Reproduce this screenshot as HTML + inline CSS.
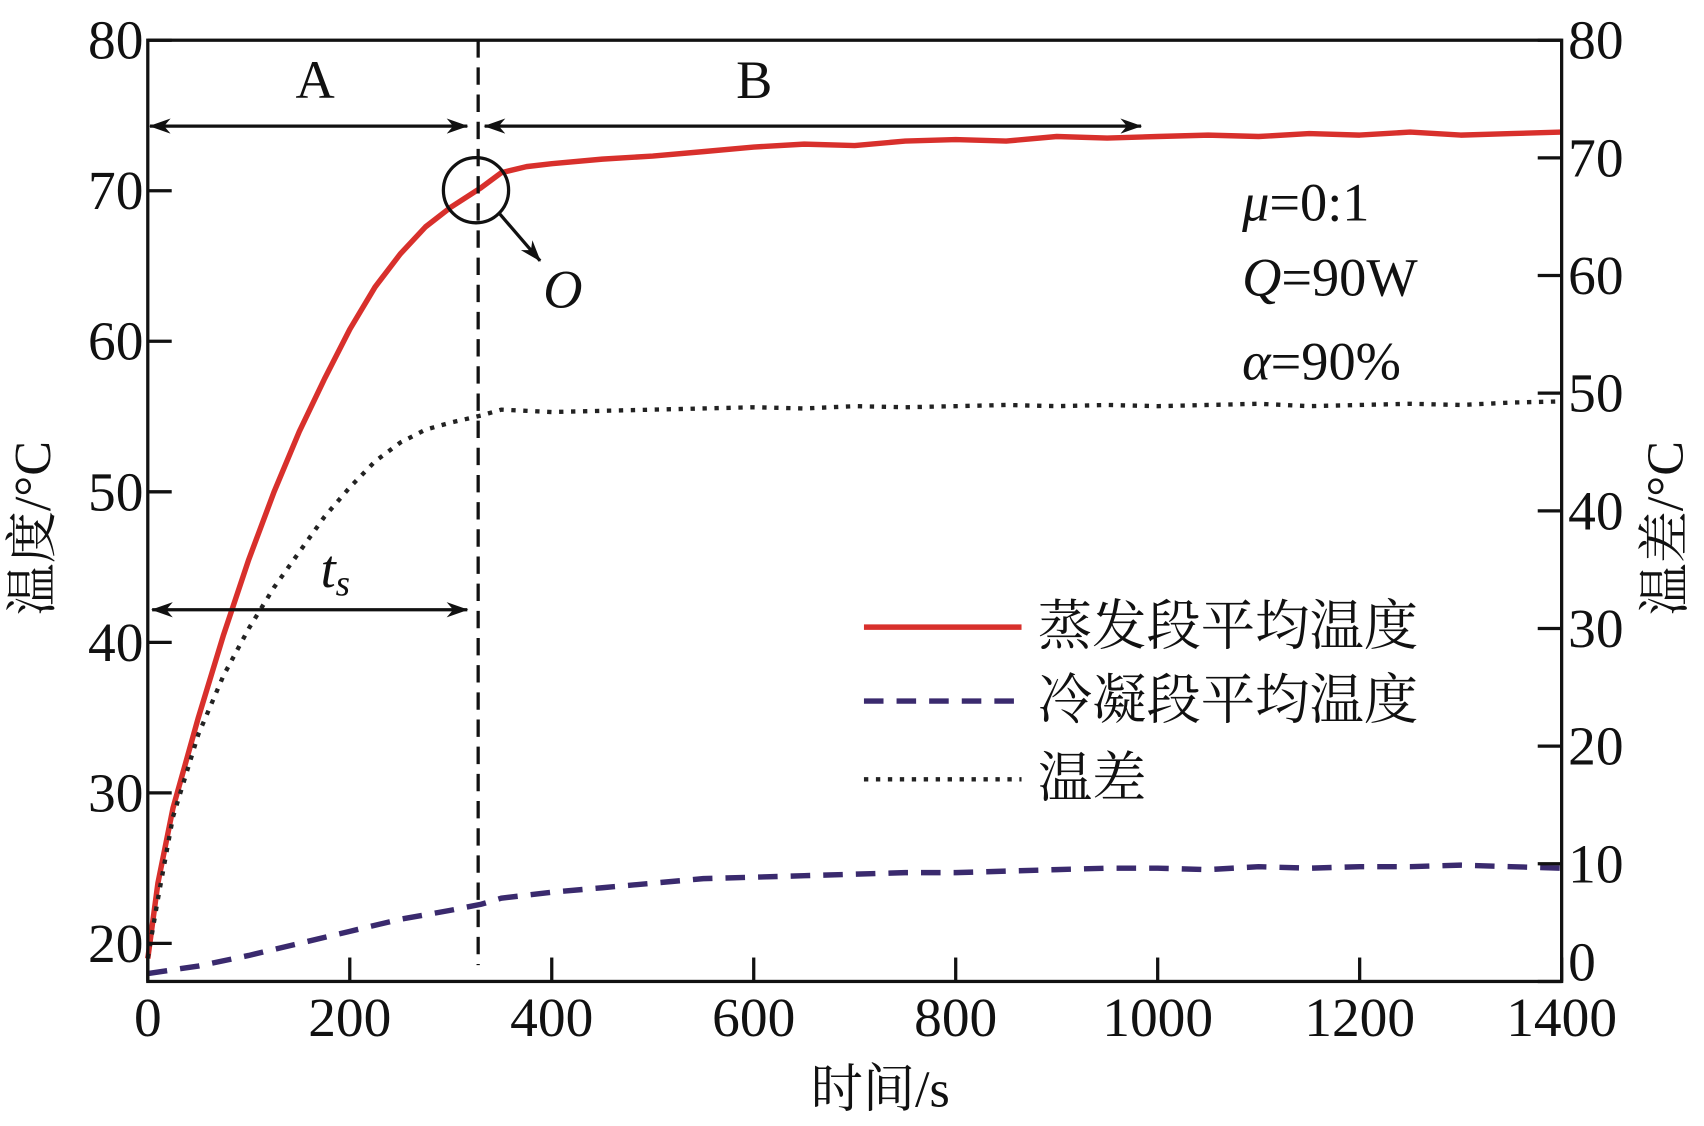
<!DOCTYPE html>
<html><head><meta charset="utf-8">
<style>
html,body{margin:0;padding:0;background:#fff;}
svg{display:block;}
text{font-family:"Liberation Serif","Noto Serif CJK SC",serif;fill:#111;}
</style></head>
<body>
<svg id="chart" width="1704" height="1126" viewBox="0 0 1568 1036" preserveAspectRatio="none" xmlns="http://www.w3.org/2000/svg">
<g id="marks"></g>
<g id="axes"></g>
</svg>
<script>
// ---- data ----
const evapTime = [0,10,25,50,75,100,125,150,175,200,225,250,275,300,330,350,375,400,450,500,550,600,650,700,750,800,850,900,950,1000,1050,1100,1150,1200,1250,1300,1350,1400];
const evapTemp = [19,24,29,35,40.5,45.5,50,54,57.5,60.8,63.6,65.8,67.6,68.9,70.2,71.2,71.6,71.8,72.1,72.3,72.6,72.9,73.1,73.0,73.3,73.4,73.3,73.6,73.5,73.6,73.7,73.6,73.8,73.7,73.9,73.7,73.8,73.9];
const condTime = [0,50,100,150,200,250,300,330,350,400,450,500,550,600,650,700,750,800,850,900,950,1000,1050,1100,1150,1200,1250,1300,1350,1400];
const condTemp = [18,18.5,19.2,20,20.8,21.6,22.2,22.6,23.0,23.4,23.7,24.0,24.3,24.4,24.5,24.6,24.7,24.7,24.8,24.9,25.0,25.0,24.9,25.1,25.0,25.1,25.1,25.2,25.1,25.0];
const diffTime = [0,10,25,50,75,100,125,150,175,200,225,250,275,300,330,350,400,450,500,550,600,650,700,750,800,850,900,950,1000,1050,1100,1150,1200,1250,1300,1350,1400];
const diffVal = [2,7,14,21,26,30,33.5,36.5,39.5,42,44.2,45.8,46.9,47.5,48.1,48.6,48.4,48.5,48.6,48.7,48.8,48.7,48.9,48.8,48.9,49.0,48.9,49.0,48.9,49.0,49.1,48.9,49.0,49.1,49.0,49.2,49.3];
const xTicks = [0,200,400,600,800,1000,1200,1400];
const yLeftTicks = [20,30,40,50,60,70,80];
const yRightTicks = [0,10,20,30,40,50,60,70,80];

// ---- scales ----
const L=136,R=1437,T=37,B=903;
const x = t => L + (t/1400)*(R-L);
const yL = v => 37 + (80-v)*13.85;
const yR = v => B - v*(B-T)/80;

const NS="http://www.w3.org/2000/svg";
const marks=document.getElementById('marks');
const axes=document.getElementById('axes');
function mk(tag,attrs,parent){const e=document.createElementNS(NS,tag);for(const k in attrs)e.setAttribute(k,attrs[k]);parent.appendChild(e);return e;}

function path(ts,vs,yf){return ts.map((t,i)=>(i?'L':'M')+x(t).toFixed(1)+','+yf(vs[i]).toFixed(1)).join(' ');}

const p1=mk('path',{d:path(evapTime,evapTemp,yL),fill:'none',stroke:'#d8302c','stroke-width':5,'stroke-linejoin':'round'},marks);


const p2=mk('path',{d:path(condTime,condTemp,yL),fill:'none',stroke:'#3a2a6e','stroke-width':5,'stroke-dasharray':'18 12'},marks);


const p3=mk('path',{d:path(diffTime,diffVal,yR),fill:'none',stroke:'#222','stroke-width':4,'stroke-dasharray':'4 7'},marks);



const fr=mk('rect',{x:L,y:T,width:R-L,height:B-T,fill:'none',stroke:'#111','stroke-width':3},axes);



xTicks.forEach(t=>{
  const tk=mk('line',{x1:x(t),x2:x(t),y1:B,y2:B-22,stroke:'#111','stroke-width':3},axes);
  
  
  const tx=mk('text',{x:x(t),y:B+50,'text-anchor':'middle','font-size':51},axes);
  tx.textContent=t;
  
  
});
yLeftTicks.forEach(v=>{
  const tk=mk('line',{x1:L,x2:L+22,y1:yL(v),y2:yL(v),stroke:'#111','stroke-width':3},axes);
  
  
  const tx=mk('text',{x:L-4,y:yL(v)+17,'text-anchor':'end','font-size':51},axes);
  tx.textContent=v;
  
  
});
yRightTicks.forEach(v=>{
  const tk=mk('line',{x1:R,x2:R-22,y1:yR(v),y2:yR(v),stroke:'#111','stroke-width':3},axes);
  
  
  const tx=mk('text',{x:R+6,y:(v===0?yR(v)-1:yR(v)+17),'text-anchor':'start','font-size':51},axes);
  tx.textContent=v;
  
  
});
</script>
<svg style="position:absolute;left:0;top:0" width="1704" height="1126" viewBox="0 0 1568 1036" preserveAspectRatio="none" xmlns="http://www.w3.org/2000/svg">
<defs>
<marker id="ah2" viewBox="0 0 20 14" refX="19" refY="7" markerWidth="22" markerHeight="14" markerUnits="userSpaceOnUse" orient="auto-start-reverse">
<path d="M0,0 L20,7 L0,14 L6,7 Z" fill="#111"/>
</marker>
</defs>
<line x1="440" y1="37" x2="440" y2="888" stroke="#111" stroke-width="3" stroke-dasharray="16 9"/>
<line x1="138" y1="116" x2="430" y2="116" stroke="#111" stroke-width="3" marker-start="url(#ah2)" marker-end="url(#ah2)"/>
<line x1="446" y1="116" x2="1050" y2="116" stroke="#111" stroke-width="3" marker-start="url(#ah2)" marker-end="url(#ah2)"/>
<text x="290" y="90" text-anchor="middle" font-size="50">A</text>
<text x="694" y="90" text-anchor="middle" font-size="50">B</text>
<circle cx="438" cy="175" r="30" fill="none" stroke="#111" stroke-width="3"/>
<line x1="460" y1="197" x2="497" y2="240" stroke="#111" stroke-width="3" marker-end="url(#ah2)"/>
<text x="518" y="283" text-anchor="middle" font-size="50" font-style="italic">O</text>
<line x1="140" y1="561" x2="430" y2="561" stroke="#111" stroke-width="3" marker-start="url(#ah2)" marker-end="url(#ah2)"/>
<text x="295" y="540" font-size="50" font-style="italic">t<tspan font-size="34" dy="8">s</tspan></text>
<text x="1143" y="203" font-size="50"><tspan font-style="italic">μ</tspan>=0:1</text>
<text x="1143" y="272" font-size="50"><tspan font-style="italic">Q</tspan>=90W</text>
<text x="1143" y="349" font-size="50"><tspan font-style="italic">α</tspan>=90%</text>
<g>
<line x1="795" y1="577" x2="940" y2="577" stroke="#d8302c" stroke-width="5"/>
<text x="955" y="593" font-size="50">蒸发段平均温度</text>
<line x1="795" y1="645" x2="940" y2="645" stroke="#3a2a6e" stroke-width="5" stroke-dasharray="18 12"/>
<text x="955" y="661" font-size="50">冷凝段平均温度</text>
<line x1="795" y1="717" x2="940" y2="717" stroke="#222" stroke-width="4" stroke-dasharray="4 7"/>
<text x="955" y="733" font-size="50">温差</text>
</g>
<text x="810" y="1018" text-anchor="middle" font-size="48">时间/s</text>
<text transform="translate(46,486) rotate(-90)" text-anchor="middle" font-size="48">温度/°C</text>
<text transform="translate(1548,486) rotate(-90)" text-anchor="middle" font-size="48">温差/°C</text>
</svg>
</body></html>
